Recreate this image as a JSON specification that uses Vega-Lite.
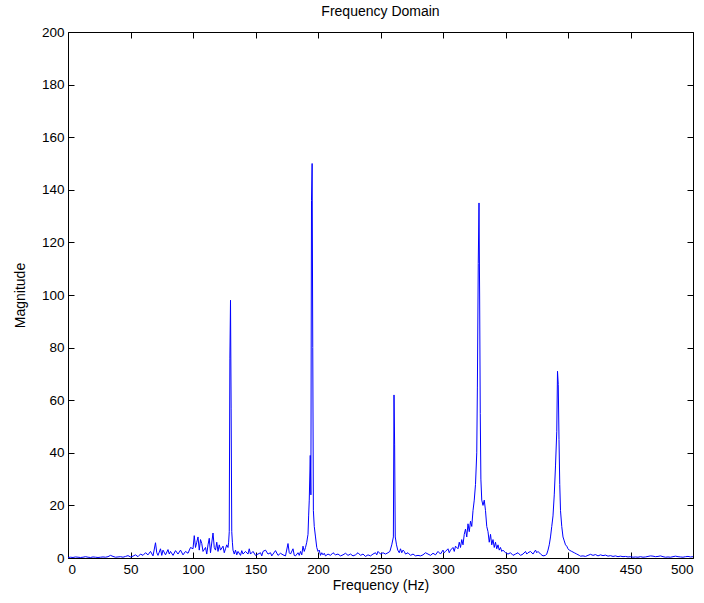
{
  "$schema": "https://vega.github.io/schema/vega-lite/v6.json",
  "width": 625,
  "height": 526,
  "autosize": {"type": "none"},
  "padding": {"left": 68, "top": 32, "right": 11, "bottom": 45},
  "background": "white",
  "title": {"text": "Frequency Domain", "fontSize": 14, "fontWeight": "normal", "font": "Liberation Sans", "color": "black", "offset": 6},
  "config": {
    "view": {"stroke": "black", "strokeWidth": 1},
    "axis": {
      "grid": false,
      "domain": false,
      "ticks": true,
      "tickColor": "black",
      "tickSize": -6,
      "labelFont": "Liberation Sans",
      "labelFontSize": 13.5,
      "labelColor": "black",
      "titleFont": "Liberation Sans",
      "titleFontSize": 14,
      "titleFontWeight": "normal",
      "titleColor": "black"
    }
  },
  "data": {"values": [
    {"f":0,"m":0.2},{"f":2,"m":0.3},{"f":4,"m":0.2},{"f":6,"m":0.4},{"f":8,"m":0.3},{"f":10,"m":0.2},{"f":12,"m":0.3},{"f":14,"m":0.5},{"f":16,"m":0.3},{"f":18,"m":0.2},{"f":20,"m":0.4},{"f":22,"m":0.3},{"f":24,"m":0.2},{"f":26,"m":0.3},{"f":28,"m":0.4},{"f":30,"m":0.3},{"f":32,"m":0.5},{"f":34,"m":1.0},{"f":36,"m":0.6},{"f":38,"m":0.3},{"f":40,"m":0.4},{"f":42,"m":0.5},{"f":44,"m":0.3},{"f":46,"m":0.6},{"f":48,"m":0.9},{"f":50,"m":0.4},{"f":52,"m":0.7},{"f":54,"m":1.2},{"f":56,"m":0.5},{"f":58,"m":1.5},{"f":60,"m":1.0},{"f":62,"m":2.0},{"f":64,"m":1.2},{"f":66,"m":2.5},{"f":68,"m":0.8},{"f":70,"m":5.8},{"f":71,"m":2.0},{"f":72,"m":1.0},{"f":74,"m":3.5},{"f":75,"m":1.0},{"f":76,"m":3.0},{"f":78,"m":1.2},{"f":80,"m":3.2},{"f":81,"m":1.5},{"f":82,"m":2.5},{"f":84,"m":1.0},{"f":86,"m":2.8},{"f":88,"m":1.5},{"f":90,"m":3.0},{"f":92,"m":1.2},{"f":94,"m":2.5},{"f":96,"m":1.8},{"f":98,"m":4.0},{"f":100,"m":3.5},{"f":101,"m":8.5},{"f":102,"m":4.0},{"f":103,"m":6.0},{"f":104,"m":8.0},{"f":105,"m":3.0},{"f":106,"m":7.0},{"f":107,"m":5.5},{"f":108,"m":2.5},{"f":110,"m":4.0},{"f":111,"m":1.5},{"f":112,"m":5.0},{"f":113,"m":7.5},{"f":114,"m":2.0},{"f":116,"m":9.5},{"f":117,"m":4.0},{"f":118,"m":3.0},{"f":119,"m":6.0},{"f":120,"m":2.5},{"f":121,"m":5.0},{"f":122,"m":3.0},{"f":124,"m":4.5},{"f":125,"m":2.0},{"f":126,"m":3.5},{"f":127,"m":5.0},{"f":128,"m":4.0},{"f":128.5,"m":6.0},{"f":129,"m":10.0},{"f":129.5,"m":76},{"f":130,"m":98},{"f":130.5,"m":57},{"f":131,"m":10.0},{"f":131.5,"m":6.0},{"f":132,"m":3.0},{"f":133,"m":1.5},{"f":134,"m":3.0},{"f":135,"m":1.2},{"f":136,"m":2.5},{"f":138,"m":1.0},{"f":139,"m":2.8},{"f":140,"m":1.5},{"f":142,"m":2.5},{"f":144,"m":1.5},{"f":145,"m":3.5},{"f":146,"m":1.5},{"f":148,"m":2.5},{"f":150,"m":1.0},{"f":152,"m":1.5},{"f":154,"m":2.0},{"f":155,"m":0.8},{"f":156,"m":2.5},{"f":158,"m":3.0},{"f":160,"m":1.5},{"f":162,"m":2.0},{"f":163,"m":0.8},{"f":164,"m":1.5},{"f":166,"m":2.8},{"f":168,"m":1.0},{"f":170,"m":1.8},{"f":172,"m":1.2},{"f":174,"m":0.8},{"f":176,"m":5.5},{"f":177,"m":2.0},{"f":178,"m":1.5},{"f":180,"m":3.5},{"f":181,"m":1.0},{"f":182,"m":0.8},{"f":184,"m":2.0},{"f":185,"m":1.0},{"f":186,"m":2.5},{"f":187,"m":1.2},{"f":188,"m":4.5},{"f":189,"m":2.5},{"f":190,"m":4.0},{"f":191,"m":6.0},{"f":192,"m":9.0},{"f":192.5,"m":16},{"f":193,"m":22},{"f":193.8,"m":39},{"f":194.3,"m":24},{"f":194.8,"m":136},{"f":195.3,"m":150},{"f":195.8,"m":80},{"f":196.3,"m":18},{"f":197,"m":12},{"f":198,"m":8},{"f":199,"m":4},{"f":200,"m":2.5},{"f":201,"m":3.0},{"f":202,"m":1.0},{"f":203,"m":2.0},{"f":204,"m":1.2},{"f":205,"m":1.8},{"f":206,"m":0.8},{"f":208,"m":1.5},{"f":210,"m":1.0},{"f":212,"m":2.0},{"f":214,"m":1.2},{"f":216,"m":1.5},{"f":218,"m":0.8},{"f":220,"m":1.2},{"f":222,"m":1.8},{"f":224,"m":1.0},{"f":226,"m":1.5},{"f":228,"m":0.8},{"f":230,"m":1.2},{"f":232,"m":2.0},{"f":234,"m":1.0},{"f":236,"m":1.5},{"f":238,"m":0.6},{"f":240,"m":1.2},{"f":242,"m":0.8},{"f":244,"m":1.5},{"f":246,"m":2.0},{"f":247,"m":1.2},{"f":248,"m":2.5},{"f":250,"m":1.5},{"f":252,"m":2.0},{"f":254,"m":1.5},{"f":256,"m":2.0},{"f":257.5,"m":2.5},{"f":259,"m":5.0},{"f":260.3,"m":8.0},{"f":260.8,"m":62},{"f":261.3,"m":43},{"f":261.8,"m":8.0},{"f":262.8,"m":5.0},{"f":263.8,"m":3.0},{"f":265,"m":2.0},{"f":266,"m":3.5},{"f":267,"m":2.0},{"f":268,"m":3.0},{"f":269,"m":2.5},{"f":270,"m":1.5},{"f":272,"m":2.0},{"f":274,"m":1.0},{"f":276,"m":1.5},{"f":278,"m":0.8},{"f":280,"m":1.0},{"f":282,"m":0.8},{"f":284,"m":1.2},{"f":286,"m":2.0},{"f":288,"m":1.5},{"f":290,"m":1.0},{"f":292,"m":1.8},{"f":294,"m":1.2},{"f":296,"m":2.5},{"f":298,"m":1.5},{"f":300,"m":3.0},{"f":301,"m":2.0},{"f":302,"m":2.5},{"f":304,"m":3.5},{"f":305,"m":2.0},{"f":306,"m":3.0},{"f":308,"m":4.0},{"f":309,"m":2.5},{"f":310,"m":4.5},{"f":312,"m":3.5},{"f":313,"m":6.0},{"f":314,"m":4.0},{"f":315,"m":7.0},{"f":316,"m":5.0},{"f":317,"m":9.0},{"f":318,"m":11},{"f":319,"m":8.0},{"f":320,"m":13},{"f":321,"m":10},{"f":322,"m":14},{"f":323,"m":12},{"f":324,"m":18},{"f":325,"m":22},{"f":326,"m":28},{"f":327,"m":40},{"f":327.5,"m":65},{"f":328.2,"m":112},{"f":328.8,"m":135},{"f":329.3,"m":100},{"f":329.8,"m":55},{"f":330.3,"m":30},{"f":331,"m":22},{"f":332,"m":20},{"f":333,"m":22},{"f":334,"m":18},{"f":335,"m":12},{"f":336,"m":10},{"f":337,"m":6.0},{"f":338,"m":9.0},{"f":339,"m":5.0},{"f":340,"m":7.0},{"f":341,"m":4.0},{"f":342,"m":6.0},{"f":343,"m":3.5},{"f":344,"m":5.0},{"f":345,"m":3.0},{"f":346,"m":4.0},{"f":347,"m":2.5},{"f":348,"m":3.0},{"f":350,"m":2.0},{"f":352,"m":1.5},{"f":354,"m":2.0},{"f":356,"m":1.0},{"f":358,"m":1.5},{"f":360,"m":2.0},{"f":362,"m":1.0},{"f":364,"m":1.5},{"f":366,"m":2.5},{"f":367,"m":1.5},{"f":368,"m":2.0},{"f":370,"m":2.5},{"f":372,"m":1.5},{"f":374,"m":3.0},{"f":375,"m":2.0},{"f":376,"m":2.5},{"f":378,"m":1.5},{"f":380,"m":0.8},{"f":382,"m":1.0},{"f":383,"m":1.5},{"f":384,"m":3.0},{"f":385,"m":5.0},{"f":386,"m":8.0},{"f":387,"m":12},{"f":388,"m":16},{"f":389,"m":24},{"f":390,"m":35},{"f":391,"m":48},{"f":391.6,"m":71},{"f":392.2,"m":66},{"f":392.8,"m":45},{"f":393.4,"m":28},{"f":394,"m":18},{"f":395,"m":12},{"f":396,"m":8.0},{"f":397,"m":6.5},{"f":398,"m":5.0},{"f":399,"m":4.5},{"f":400,"m":3.5},{"f":401,"m":3.0},{"f":403,"m":2.5},{"f":405,"m":2.0},{"f":407,"m":1.5},{"f":409,"m":1.0},{"f":410,"m":0.7},{"f":412,"m":0.8},{"f":414,"m":0.6},{"f":416,"m":1.0},{"f":418,"m":1.4},{"f":420,"m":1.0},{"f":422,"m":1.3},{"f":424,"m":0.8},{"f":426,"m":1.2},{"f":428,"m":0.9},{"f":430,"m":1.1},{"f":432,"m":0.7},{"f":434,"m":0.9},{"f":436,"m":0.6},{"f":438,"m":0.8},{"f":440,"m":0.5},{"f":442,"m":0.7},{"f":444,"m":0.5},{"f":446,"m":0.6},{"f":448,"m":0.4},{"f":450,"m":0.5},{"f":452,"m":0.3},{"f":454,"m":0.4},{"f":456,"m":0.3},{"f":458,"m":0.5},{"f":460,"m":0.3},{"f":462,"m":0.4},{"f":464,"m":0.6},{"f":466,"m":0.8},{"f":468,"m":0.7},{"f":470,"m":0.5},{"f":472,"m":0.6},{"f":474,"m":0.8},{"f":476,"m":0.5},{"f":478,"m":0.3},{"f":480,"m":0.4},{"f":482,"m":0.3},{"f":484,"m":0.5},{"f":486,"m":0.7},{"f":488,"m":0.5},{"f":490,"m":0.4},{"f":492,"m":0.3},{"f":494,"m":0.5},{"f":496,"m":0.6},{"f":498,"m":0.4},{"f":500,"m":0.5}
  ]},
  "layer": [
    {
      "mark": {"type": "line", "color": "#0000ff", "strokeWidth": 1},
      "encoding": {
        "x": {"field": "f", "type": "quantitative", "scale": {"domain": [0, 500], "nice": false, "zero": false},
          "axis": {"orient": "bottom", "title": "Frequency (Hz)", "values": [0,50,100,150,200,250,300,350,400,450,500], "labelPadding": 10, "titlePadding": 3}},
        "y": {"field": "m", "type": "quantitative", "scale": {"domain": [0, 200], "nice": false},
          "axis": {"orient": "left", "title": "Magnitude", "values": [0,20,40,60,80,100,120,140,160,180,200], "labelPadding": 10, "titlePadding": 14}}
      }
    },
    {
      "mark": {"type": "line", "strokeOpacity": 0},
      "encoding": {
        "x": {"field": "f", "type": "quantitative",
          "axis": {"orient": "top", "title": null, "labels": false, "values": [0,50,100,150,200,250,300,350,400,450,500]}},
        "y": {"field": "m", "type": "quantitative",
          "axis": {"orient": "right", "title": null, "labels": false, "values": [0,20,40,60,80,100,120,140,160,180,200]}}
      }
    }
  ],
  "resolve": {"axis": {"x": "independent", "y": "independent"}}
}
